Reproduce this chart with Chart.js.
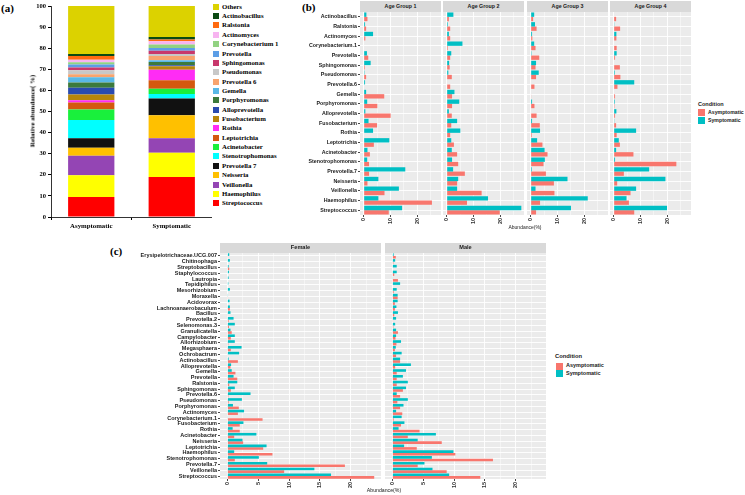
<!DOCTYPE html>
<html>
<head>
<meta charset="utf-8">
<script src="https://cdn.jsdelivr.net/npm/chart.js@4/dist/chart.umd.min.js"></script>
<style>
  body { margin: 0; background: #fff; }
  #fig { position: relative; width: 745px; height: 495px; overflow: hidden; font-family: 'Liberation Sans', Arial, sans-serif; }
  #fig canvas { position: absolute; }
  .t { position: absolute; white-space: nowrap; line-height: 1; }
  .box { position: absolute; }
</style>
</head>
<body>
<div id="fig"></div>
<script>
// ---------- panel (a): stacked relative abundance ----------
const aGroups = ['Asymptomatic', 'Symptomatic'];
// bottom -> top of the stack
const aGenera = ['Streptococcus', 'Haemophilus', 'Veillonella', 'Neisseria', 'Prevotella 7', 'Stenotrophomonas',
  'Acinetobacter', 'Leptotrichia', 'Rothia', 'Fusobacterium', 'Alloprevotella', 'Porphyromonas', 'Gemella',
  'Prevotella 6', 'Pseudomonas', 'Sphingomonas', 'Prevotella', 'Corynebacterium 1', 'Actinomyces', 'Ralstonia',
  'Actinobacillus', 'Others'];
const aAsym = [9.5, 10.3, 9.2, 3.8, 4.5, 8.7, 5, 3.3, 1, 2.7, 3.3, 2.5, 2.4, 1.5, 1.8, 1.3, 1.5, 1, 1.2, 1.8, 1, 22.7];
const aSym = [19, 11.5, 6.8, 10.9, 8, 2.1, 2.5, 4, 5, 1.7, 0.4, 1.6, 0.8, 2, 1, 1.5, 1.3, 1.7, 1.5, 0.8, 1.2, 14.7];
const aColors = ['#ff0000', '#ffff00', '#9445b4', '#ffc000', '#111111', '#00ffff', '#19f03c', '#d4580f', '#ff2cf5',
  '#b8860b', '#2a4bb0', '#3c7a3c', '#5ab8e6', '#f8a46e', '#c8c8c8', '#c8386c', '#5c9ee6', '#92d282', '#f7b4f0',
  '#ff6a10', '#0b4a12', '#dcd200'];

// ---------- panel (b): by age group ----------
const bGenera = ['Actinobacillus', 'Ralstonia', 'Actinomyces', 'Corynebacterium.1', 'Prevotella', 'Sphingomonas',
  'Pseudomonas', 'Prevotella.6', 'Gemella', 'Porphyromonas', 'Alloprevotella', 'Fusobacterium', 'Rothia',
  'Leptotrichia', 'Acinetobacter', 'Stenotrophomonas', 'Prevotella.7', 'Neisseria', 'Veillonella', 'Haemophilus',
  'Streptococcus'];
const bFacets = ['Age Group 1', 'Age Group 2', 'Age Group 3', 'Age Group 4'];
const bSym1 = [1.0, 0.5, 3.5, 0, 1.2, 2.6, 0.3, 0.5, 0.9, 1.3, 0.6, 1.8, 3.5, 9.6, 1.4, 1.3, 15.6, 5.5, 13.2, 5.5, 14.4];
const bAsym1 = [1.4, 0.9, 0.6, 0, 1.7, 0.4, 0.9, 0, 7.7, 5.1, 10.1, 5.0, 0, 3.8, 2.3, 2.0, 2.0, 1.4, 7.8, 25.6, 9.4];
const bSym2 = [2.5, 0.4, 0.8, 5.9, 1.7, 0.9, 0.6, 0, 2.9, 4.7, 0.8, 3.9, 5.1, 1.7, 1.9, 2.0, 2.4, 4.3, 3.9, 15.5, 28.0];
const bAsym2 = [0.8, 1.3, 1.3, 0.4, 1.3, 1.1, 1.9, 1.3, 2.0, 2.0, 1.9, 1.7, 1.3, 2.7, 3.9, 4.3, 6.8, 3.9, 13.1, 7.6, 19.9];
const bSym3 = [1.3, 1.6, 0.5, 1.3, 0.3, 2.0, 3.0, 0, 0, 0.5, 0, 0.5, 3.5, 2.4, 5.2, 5.3, 0.4, 13.8, 1.8, 21.4, 15.1];
const bAsym3 = [0.9, 2.2, 0.6, 1.8, 3.2, 1.8, 2.0, 1.4, 0.2, 1.4, 2.2, 3.4, 0.4, 4.4, 6.3, 4.8, 5.7, 8.7, 8.9, 3.5, 2.0];
const bSym4 = [0, 0.1, 1.0, 0, 1.1, 0, 0.4, 7.7, 0, 0.4, 1.0, 0.1, 8.4, 1.9, 0.9, 0.5, 13.3, 19.4, 8.4, 4.8, 20.0];
const bAsym4 = [0.9, 2.4, 1.0, 1.1, 0.5, 2.3, 2.5, 1.4, 0.5, 0.3, 0.5, 0.9, 1.1, 2.3, 7.4, 23.5, 3.8, 1.3, 6.3, 5.7, 7.7];

// ---------- panel (c): by sex ----------
const cGenera = ['Erysipelotrichaceae.UCG.007', 'Chitinophaga', 'Streptobacillus', 'Staphylococcus', 'Lautropia',
  'Tepidiphilus', 'Mesorhizobium', 'Moraxella', 'Acidovorax', 'Lachnoanaerobaculum', 'Bacillus', 'Prevotella.2',
  'Selenomonas.3', 'Granulicatella', 'Campylobacter', 'Allorhizobium', 'Megasphaera', 'Ochrobactrum',
  'Actinobacillus', 'Alloprevotella', 'Gemella', 'Prevotella', 'Ralstonia', 'Sphingomonas', 'Prevotella.6',
  'Pseudomonas', 'Porphyromonas', 'Actinomyces', 'Corynebacterium.1', 'Fusobacterium', 'Rothia', 'Acinetobacter',
  'Neisseria', 'Leptotrichia', 'Haemophilus', 'Stenotrophomonas', 'Prevotella.7', 'Veillonella', 'Streptococcus'];
const cFacets = ['Female', 'Male'];
const cSymF = [0.3, 0.4, 0.2, 0.25, 0.2, 0.15, 0.4, 0.1, 0.35, 0.4, 0.5, 1.0, 1.2, 0.5, 1.2, 1.2, 2.3, 1.9, 0.2, 0.6,
  0.7, 1.0, 1.6, 1.2, 3.75, 2.35, 0.9, 2.7, 0.05, 2.6, 0.85, 4.7, 2.45, 6.35, 1.1, 5.1, 6.45, 14.1, 16.8];
const cAsymF = [0.1, 0, 0.3, 0, 0, 0, 0, 0.1, 0, 0.4, 0.1, 0.2, 0.25, 0.7, 0.55, 0.15, 0.55, 0.1, 1.7, 0.5,
  1.3, 1.6, 0.3, 0.55, 0.15, 0.2, 1.85, 1.7, 5.7, 2.0, 2.0, 1.1, 2.55, 5.8, 7.3, 1.2, 19.05, 9.2, 23.8];
const cSymM = [0.2, 0.45, 0.7, 0.7, 0.1, 1.25, 0.7, 0.85, 0.85, 0.65, 0.9, 0.6, 0.45, 0.6, 0.6, 1.4, 0.55, 1.5, 1.25, 3.0,
  2.2, 1.7, 2.5, 2.2, 0.7, 2.5, 1.8, 0.6, 1.5, 1.95, 1.0, 7.05, 4.1, 1.9, 9.9, 6.4, 5.2, 6.5, 9.2];
const cAsymM = [0.55, 0.15, 0, 0.3, 0.9, 0, 0.2, 0.85, 0.4, 0.4, 0.3, 0.1, 0.15, 0.9, 0.5, 0.65, 0.4, 0.6, 1.25, 0.45,
  0.7, 0.7, 0.7, 1.7, 1.25, 0.8, 1.25, 1.6, 0.2, 1.4, 4.4, 2.5, 8.0, 3.95, 10.2, 16.3, 4.1, 8.8, 14.25];

const SALMON = '#F8766D';
const CYAN = '#00BFC4';
const SERIF = "'Liberation Serif', 'Times New Roman', serif";
const SANS = "'Liberation Sans', Arial, sans-serif";

Chart.defaults.font.family = SANS;

const fig = document.getElementById('fig');

function addCanvas(x, y, w, h) {
  const c = document.createElement('canvas');
  c.width = w; c.height = h;
  c.style.left = x + 'px'; c.style.top = y + 'px';
  c.style.width = w + 'px'; c.style.height = h + 'px';
  fig.appendChild(c);
  return c;
}

function addText(s, x, y, o = {}) {
  const d = document.createElement('div');
  d.className = 't';
  d.textContent = s;
  d.style.left = x + 'px'; d.style.top = y + 'px';
  d.style.fontSize = (o.size || 6) + 'px';
  d.style.fontWeight = o.weight || 'normal';
  d.style.fontFamily = o.family || SANS;
  d.style.color = o.color || '#000';
  const tx = o.align === 'center' ? '-50%' : (o.align === 'right' ? '-100%' : '0');
  d.style.transform = `translate(${tx}, -50%)` + (o.rotate ? ` rotate(${o.rotate}deg)` : '');
  fig.appendChild(d);
  return d;
}

function addBox(x, y, w, h, color) {
  const d = document.createElement('div');
  d.className = 'box';
  Object.assign(d.style, { left: x + 'px', top: y + 'px', width: w + 'px', height: h + 'px', background: color });
  fig.appendChild(d);
}

function strip(label, x, y, w, h, size) {
  addBox(x, y, w, h, '#d9d9d9');
  addText(label, x + w / 2, y + h / 2 + 0.3, { size, weight: 'bold', color: '#1a1a1a', align: 'center' });
}

// grey ggplot-like panel background
const panelBg = {
  id: 'panelBg',
  beforeDraw(chart) {
    const a = chart.chartArea, ctx = chart.ctx;
    ctx.save();
    ctx.fillStyle = '#ebebeb';
    ctx.fillRect(a.left, a.top, a.right - a.left, a.bottom - a.top);
    ctx.restore();
  }
};

function facetChart(canvas, labels, sym, asym, o) {
  const isMajor = c => c.tick && Math.abs(c.tick.value % o.major) < 1e-6;
  return new Chart(canvas, {
    type: 'bar',
    data: {
      labels,
      datasets: [
        { label: 'Symptomatic', data: sym, backgroundColor: CYAN },
        { label: 'Asymptomatic', data: asym, backgroundColor: SALMON }
      ]
    },
    options: {
      indexAxis: 'y',
      responsive: false,
      animation: false,
      layout: { padding: 0 },
      plugins: { legend: { display: false }, tooltip: { enabled: false } },
      datasets: { bar: { barPercentage: 1, categoryPercentage: 0.9, borderWidth: 0 } },
      scales: {
        x: {
          min: o.min, max: o.max,
          border: { display: false },
          grid: {
            color: '#ffffff',
            lineWidth: c => isMajor(c) ? 0.9 : 0.45,
            tickLength: 2,
            tickColor: c => isMajor(c) ? '#333333' : 'rgba(0,0,0,0)'
          },
          ticks: {
            stepSize: o.minor, includeBounds: false, autoSkip: false,
            minRotation: 90, maxRotation: 90, padding: 1,
            color: '#333333', font: { size: o.tickSize, weight: 'bold' },
            callback: v => Math.abs(v % o.major) < 1e-6 ? v : ''
          },
          afterFit: s => { s.height = o.xh; s.paddingLeft = 0; s.paddingRight = 0; }
        },
        y: {
          border: { display: false },
          grid: { color: '#ffffff', lineWidth: 0.9, offset: false, drawTicks: o.yw > 0, tickLength: 2, tickColor: '#333333' },
          ticks: { display: o.yw > 0, autoSkip: false, padding: 1, color: '#1a1a1a', font: { size: o.labelSize, weight: 'bold' } },
          afterFit: s => { s.width = o.yw; s.paddingTop = 0; s.paddingBottom = 0; }
        }
      }
    },
    plugins: [panelBg]
  });
}

// ===== (a) =====
addText('(a)', 1, 8, { size: 11, weight: 'bold', family: SERIF });
const cA = addCanvas(0, 0, 212, 230);
new Chart(cA, {
  type: 'bar',
  data: {
    labels: aGroups,
    datasets: aGenera.map((g, i) => ({ label: g, data: [aAsym[i], aSym[i]], backgroundColor: aColors[i] }))
  },
  options: {
    responsive: false,
    animation: false,
    layout: { padding: { top: 6 } },
    plugins: { legend: { display: false }, tooltip: { enabled: false } },
    datasets: { bar: { barPercentage: 0.575, categoryPercentage: 1, borderWidth: 0 } },
    scales: {
      x: {
        stacked: true,
        border: { display: true, color: '#000', width: 0.8 },
        grid: { display: true, drawOnChartArea: false, tickLength: 3, tickColor: '#000' },
        ticks: { color: '#000', padding: 2, font: { family: SERIF, size: 6.8, weight: 'bold' } },
        afterFit: s => { s.height = 13; s.paddingLeft = 0; s.paddingRight = 0; }
      },
      y: {
        stacked: true, min: 0, max: 100,
        border: { display: true, color: '#000', width: 0.8 },
        grid: { display: true, drawOnChartArea: false, tickLength: 3, tickColor: '#000' },
        ticks: { stepSize: 10, color: '#000', padding: 2, font: { family: SERIF, size: 6.5, weight: 'bold' } },
        afterFit: s => { s.width = 51; s.paddingTop = 0; s.paddingBottom = 0; }
      }
    }
  }
});
addText('Relative abundance( %)', 33, 111, { size: 7, weight: 'bold', family: SERIF, align: 'center', rotate: -90 });

// legend of (a): top item is the top of the stack
for (let k = 0; k < aGenera.length; k++) {
  const i = aGenera.length - 1 - k;
  const y = 6.7 + k * 9.36;
  addBox(213, y - 3, 6, 6, aColors[i]);
  addText(aGenera[i], 222, y, { size: 6.8, weight: 'bold', family: SERIF });
}

// ===== (b) =====
addText('(b)', 302, 7, { size: 11, weight: 'bold', family: SERIF });
const bSym = [bSym1, bSym2, bSym3, bSym4];
const bAsym = [bAsym1, bAsym2, bAsym3, bAsym4];
const bLefts = [360, 443, 527, 610];
bLefts.forEach((left, f) => {
  const yw = f === 0 ? 70 : 0;
  const cv = addCanvas(left - yw, 12, 81 + yw, 215);
  facetChart(cv, bGenera, bSym[f], bAsym[f], {
    min: -1.4, max: 29.0, major: 10, minor: 5, xh: 12, yw,
    tickSize: 5.5, labelSize: 5.3
  });
  strip(bFacets[f], left, 1, 81, 10.5, 5.3);
});
addText('Abundance(%)', 525, 227, { size: 5, color: '#1a1a1a', align: 'center' });
addText('Condition', 698, 105, { size: 5.5, weight: 'bold', color: '#1a1a1a' });
addBox(698, 109.3, 7, 7, SALMON);
addBox(698, 117.3, 7, 7, CYAN);
addText('Asymptomatic', 708, 113, { size: 5.2, weight: 'bold', color: '#1a1a1a' });
addText('Symptomatic', 708, 121, { size: 5.2, weight: 'bold', color: '#1a1a1a' });

// ===== (c) =====
addText('(c)', 110, 251, { size: 11, weight: 'bold', family: SERIF });
const cSym = [cSymF, cSymM];
const cAsym = [cAsymF, cAsymM];
const cLefts = [220, 385];
cLefts.forEach((left, f) => {
  const yw = f === 0 ? 80 : 0;
  const cv = addCanvas(left - yw, 253, 161 + yw, 238);
  facetChart(cv, cGenera, cSym[f], cAsym[f], {
    min: -1.2, max: 24.9, major: 5, minor: 2.5, xh: 12, yw,
    tickSize: 5.5, labelSize: 5.5
  });
  strip(cFacets[f], left, 243, 161, 9.5, 5.6);
});
addText('Abundance(%)', 384, 491, { size: 5.2, color: '#1a1a1a', align: 'center' });
addText('Condition', 555, 357, { size: 5.8, weight: 'bold', color: '#1a1a1a' });
addBox(556, 362.5, 7, 7, SALMON);
addBox(556, 370.3, 7, 7, CYAN);
addText('Asymptomatic', 566, 366, { size: 5.5, weight: 'bold', color: '#1a1a1a' });
addText('Symptomatic', 566, 374, { size: 5.5, weight: 'bold', color: '#1a1a1a' });
</script>
</body>
</html>
